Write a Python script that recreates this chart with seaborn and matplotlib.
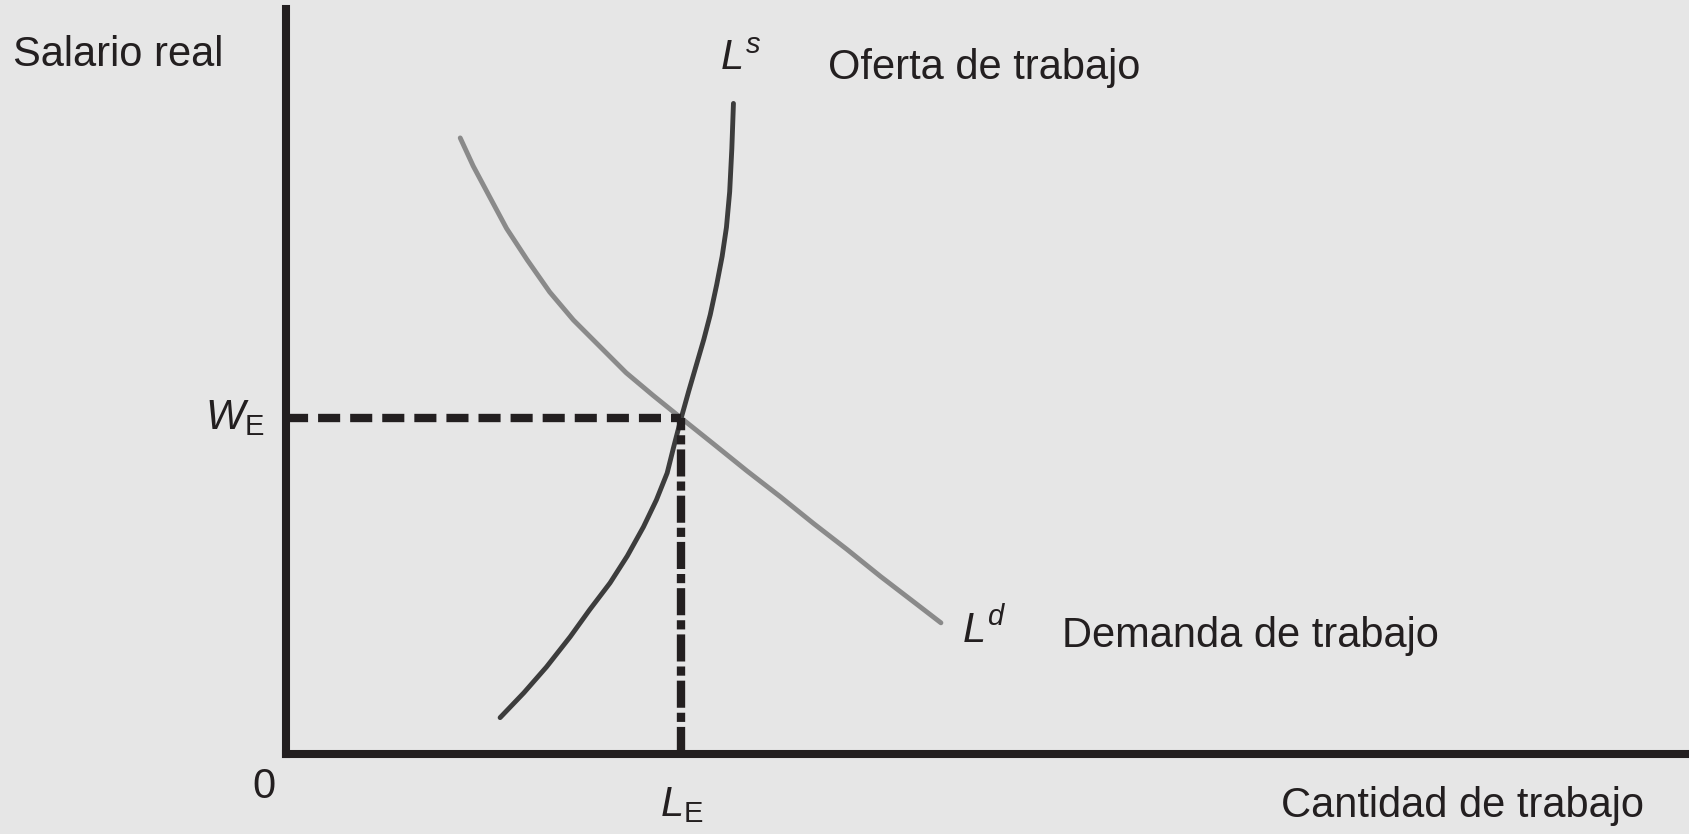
import numpy as np
import pandas as pd
import matplotlib
matplotlib.use("Agg")
import matplotlib.pyplot as plt
import seaborn as sns

# curvas (unidades arbitrarias, origen en 0)
supply_x = [1.99, 2.21, 2.42, 2.64, 2.82, 3.01, 3.17, 3.32, 3.44, 3.54, 3.60, 3.67,
            3.74, 3.81, 3.88, 3.94, 4.00, 4.05, 4.09, 4.12, 4.14, 4.155]
supply_y = [0.34, 0.57, 0.81, 1.09, 1.34, 1.59, 1.84, 2.11, 2.36, 2.61, 2.85, 3.12,
            3.37, 3.61, 3.85, 4.08, 4.36, 4.62, 4.89, 5.22, 5.62, 6.04]
demand_x = [1.62, 1.74, 1.90, 2.05, 2.24, 2.45, 2.67, 2.92, 3.16, 3.41, 3.67,
            3.97, 4.28, 4.59, 4.90, 5.21, 5.52, 5.82, 6.08]
demand_y = [5.72, 5.46, 5.16, 4.88, 4.59, 4.29, 4.03, 3.78, 3.54, 3.33, 3.12,
            2.88, 2.63, 2.39, 2.14, 1.90, 1.65, 1.42, 1.22]
eq_L = 3.67
eq_W = 3.12

y_label = "Salario real"
x_label = "Cantidad de trabajo"
supply_label = "Oferta de trabajo"
demand_label = "Demanda de trabajo"

sns.set_theme(style="white")
plt.rcParams["font.family"] = ["Liberation Sans", "DejaVu Sans"]
plt.rcParams["mathtext.fontset"] = "custom"
plt.rcParams["mathtext.it"] = "Liberation Sans:italic"
plt.rcParams["mathtext.rm"] = "Liberation Sans"

ink = "#231f20"
bg = "#e6e6e6"

fig = plt.figure(figsize=(16.9, 8.34), dpi=100, facecolor=bg)
ax = fig.add_axes([0, 0, 1, 1], facecolor=bg)
ax.set_xlim(-2.65, 13.03)
ax.set_ylim(-0.74, 7.00)

df_s = pd.DataFrame({"L": supply_x, "W": supply_y})
df_d = pd.DataFrame({"L": demand_x, "W": demand_y})
sns.lineplot(data=df_d, x="L", y="W", sort=False, estimator=None, color="#8a8a8a",
             lw=3.5, ax=ax, solid_joinstyle="round")
sns.lineplot(data=df_s, x="L", y="W", sort=False, estimator=None, color="#3c3c3c",
             lw=3.5, ax=ax, solid_joinstyle="round")

# líneas de equilibrio
ax.plot([0, eq_L], [eq_W, eq_W], color=ink, lw=6, dashes=(2.65, 1.2))
ax.plot([eq_L, eq_L], [0, eq_W], color=ink, lw=6, dashes=(3.25, 0.6, 1.1, 0.6))

# ejes
for side in ["top", "right"]:
    ax.spines[side].set_visible(False)
for side in ["left", "bottom"]:
    ax.spines[side].set_position(("data", 0))
    ax.spines[side].set_color(ink)
    ax.spines[side].set_linewidth(5.8)
    ax.spines[side].set_capstyle("projecting")
ax.spines["left"].set_bounds(0, 6.92)
ax.spines["bottom"].set_bounds(0, 13.03)
ax.set_xticks([])
ax.set_yticks([])
ax.set_xlabel("")
ax.set_ylabel("")

fs = 30
ax.text(-2.53, 6.49, y_label, fontsize=fs, color=ink, va="center", ha="left")
ax.text(12.60, -0.48, x_label, fontsize=fs, color=ink, va="center", ha="right")
ax.text(5.03, 6.37, supply_label, fontsize=fs, color=ink, va="center", ha="left")
ax.text(7.20, 1.10, demand_label, fontsize=fs, color=ink, va="center", ha="left")
ax.text(-0.20, -0.30, "0", fontsize=fs, color=ink, va="center", ha="center")
ax.text(eq_L, -0.47, r"$L_{\mathrm{E}}$", fontsize=fs, color=ink, va="center", ha="center")
ax.text(-0.20, eq_W, r"$W_{\mathrm{E}}$", fontsize=fs, color=ink, va="center", ha="right")
ax.text(4.03, 6.45, r"$L^{s}$", fontsize=fs, color=ink, va="center", ha="left")
ax.text(6.28, 1.15, r"$L^{d}$", fontsize=fs, color=ink, va="center", ha="left")

fig.savefig("out.png", dpi=100, facecolor=bg)
